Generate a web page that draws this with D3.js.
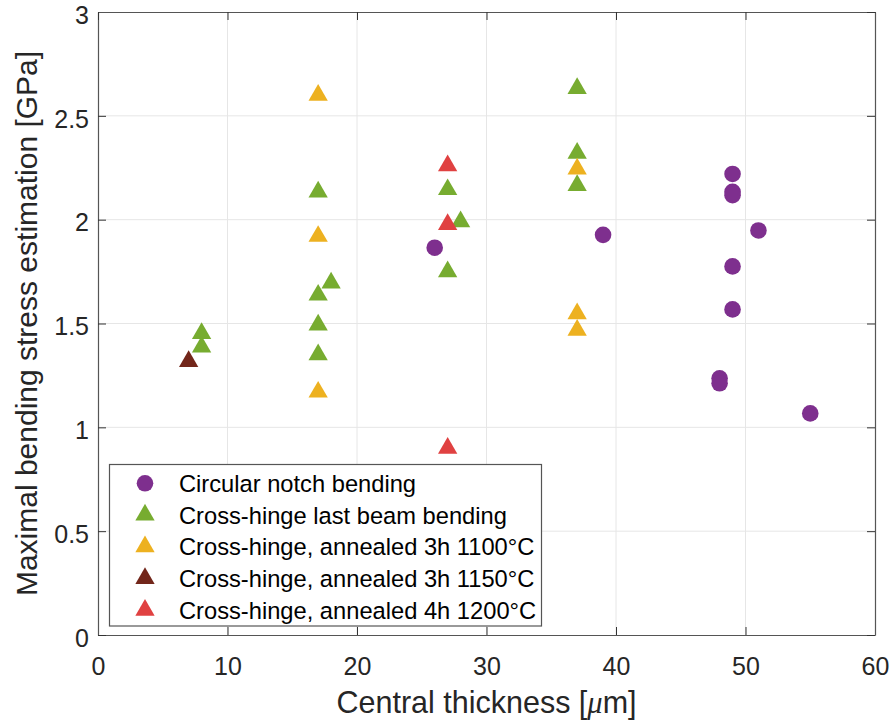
<!DOCTYPE html>
<html>
<head>
<meta charset="utf-8">
<script src="https://cdn.jsdelivr.net/npm/d3@7"></script>
<style>
  body { margin: 0; background: #fff; }
  svg { display: block; font-family: "Liberation Sans", Arial, sans-serif; }
</style>
</head>
<body>
<svg width="892" height="724"></svg>
<script>
// series data
const circX = [26, 39, 48, 48, 49, 49, 49, 49, 49, 51, 55];
const circY = [1.865, 1.927, 1.236, 1.212, 2.22, 2.134, 2.118, 1.775, 1.568, 1.948, 1.067];

const lastBeamX = [8, 8, 17, 17, 17, 17, 18, 27, 27, 28, 37, 37, 37];
const lastBeamY = [1.452, 1.387, 2.134, 1.637, 1.493, 1.35, 1.695, 2.145, 1.75, 1.99, 2.632, 2.32, 2.165];

const ann1100X = [17, 17, 17, 37, 37, 37];
const ann1100Y = [2.60, 1.92, 1.17, 2.244, 1.547, 1.468];

const ann1150X = [7];
const ann1150Y = [1.317];

const ann1200X = [27, 27, 27];
const ann1200Y = [2.26, 1.977, 0.90];

const seriesNames = [
  "Circular notch bending",
  "Cross-hinge last beam bending",
  "Cross-hinge, annealed 3h 1100°C",
  "Cross-hinge, annealed 3h 1150°C",
  "Cross-hinge, annealed 4h 1200°C"
];
const seriesColors = ["#7E2F8E", "#77AC30", "#EDB120", "#72261A", "#E04141"];
const seriesShapes = ["circle", "tri", "tri", "tri", "tri"];

const xTicks = [0, 10, 20, 30, 40, 50, 60];
const yTicks = [0, 0.5, 1, 1.5, 2, 2.5, 3];

const series = [
  {x: circX, y: circY},
  {x: lastBeamX, y: lastBeamY},
  {x: ann1100X, y: ann1100Y},
  {x: ann1150X, y: ann1150Y},
  {x: ann1200X, y: ann1200Y}
];

const svg = d3.select("svg");
const pLeft = 98, pRight = 875, pTop = 12, pBottom = 635;

const x = d3.scaleLinear().domain([0, 60]).range([pLeft, pRight]);
const y = d3.scaleLinear().domain([0, 3]).range([pBottom, pTop]);

// grid
const grid = svg.append("g");
grid.selectAll("line.gx").data(xTicks.slice(1, -1)).join("line")
  .attr("x1", d => x(d)).attr("x2", d => x(d))
  .attr("y1", pTop).attr("y2", pBottom)
  .attr("stroke", "#e6e6e6").attr("stroke-width", 1);
grid.selectAll("line.gy").data(yTicks.slice(1, -1)).join("line")
  .attr("y1", d => y(d)).attr("y2", d => y(d))
  .attr("x1", pLeft).attr("x2", pRight)
  .attr("stroke", "#e6e6e6").attr("stroke-width", 1);

// axes (ticks inward, box on)
const axCol = "#555";
const xAxis = svg.append("g").attr("transform", `translate(0,${pBottom})`)
  .call(d3.axisBottom(x).tickValues(xTicks).tickSizeInner(-8).tickSizeOuter(0).tickPadding(22));
const yAxis = svg.append("g").attr("transform", `translate(${pLeft},0)`)
  .call(d3.axisLeft(y).tickValues(yTicks).tickFormat(d3.format("")).tickSizeInner(-8).tickSizeOuter(0).tickPadding(9));
const xTop = svg.append("g").attr("transform", `translate(0,${pTop})`)
  .call(d3.axisTop(x).tickValues(xTicks).tickSizeInner(-8).tickSizeOuter(0).tickFormat(""));
const yRight = svg.append("g").attr("transform", `translate(${pRight},0)`)
  .call(d3.axisRight(y).tickValues(yTicks).tickSizeInner(-8).tickSizeOuter(0).tickFormat(""));

[xAxis, yAxis, xTop, yRight].forEach(g => {
  g.select(".domain").attr("stroke", axCol).attr("stroke-width", 1.2);
  g.selectAll(".tick line").attr("stroke", "#333").attr("stroke-width", 1);
  g.selectAll(".tick text").attr("fill", "#262626")
    .style("font-size", "25px").style("font-family", "Liberation Sans, Arial, sans-serif");
});
// y labels sit a little below their ticks in the reference
yAxis.selectAll(".tick text").attr("dy", "0.45em");

// markers
const triW = 19.3, triH = 16.7;
const triPath = `M0,${-2 * triH / 3}L${triW / 2},${triH / 3}L${-triW / 2},${triH / 3}Z`;

function drawMarker(g, shape, color) {
  if (shape === "circle") {
    g.append("circle").attr("r", 8.3).attr("fill", color);
  } else {
    g.append("path").attr("d", triPath).attr("fill", color);
  }
}

series.forEach((s, i) => {
  const pts = s.x.map((v, k) => [v, s.y[k]]);
  svg.append("g").selectAll("g").data(pts).join("g")
    .attr("transform", d => `translate(${x(d[0])},${y(d[1])})`)
    .each(function() { drawMarker(d3.select(this), seriesShapes[i], seriesColors[i]); });
});

// legend
const lg = svg.append("g");
lg.append("rect")
  .attr("x", 109.5).attr("y", 464.5).attr("width", 432).attr("height", 161.5)
  .attr("fill", "#fff").attr("stroke", axCol).attr("stroke-width", 1.2);
seriesNames.forEach((name, i) => {
  const cy = 483.3 + i * 31.7;
  const m = lg.append("g").attr("transform", `translate(145,${cy})`);
  drawMarker(m, seriesShapes[i], seriesColors[i]);
  lg.append("text").attr("x", 179).attr("y", cy + 8.5)
    .attr("fill", "#000").style("font-size", "23.7px")
    .text(name);
});

// axis labels
const xl = svg.append("text")
  .attr("x", (pLeft + pRight) / 2).attr("y", 713)
  .attr("text-anchor", "middle").attr("fill", "#262626")
  .style("font-size", "30.5px");
xl.append("tspan").text("Central thickness [");
xl.append("tspan").style("font-style", "italic").style("font-family", "Liberation Serif, serif").text("μ");
xl.append("tspan").text("m]");

svg.append("text")
  .attr("transform", `translate(37,${(pTop + pBottom) / 2}) rotate(-90)`)
  .attr("text-anchor", "middle").attr("fill", "#262626")
  .style("font-size", "30px")
  .text("Maximal bending stress estimation [GPa]");
</script>
</body>
</html>
